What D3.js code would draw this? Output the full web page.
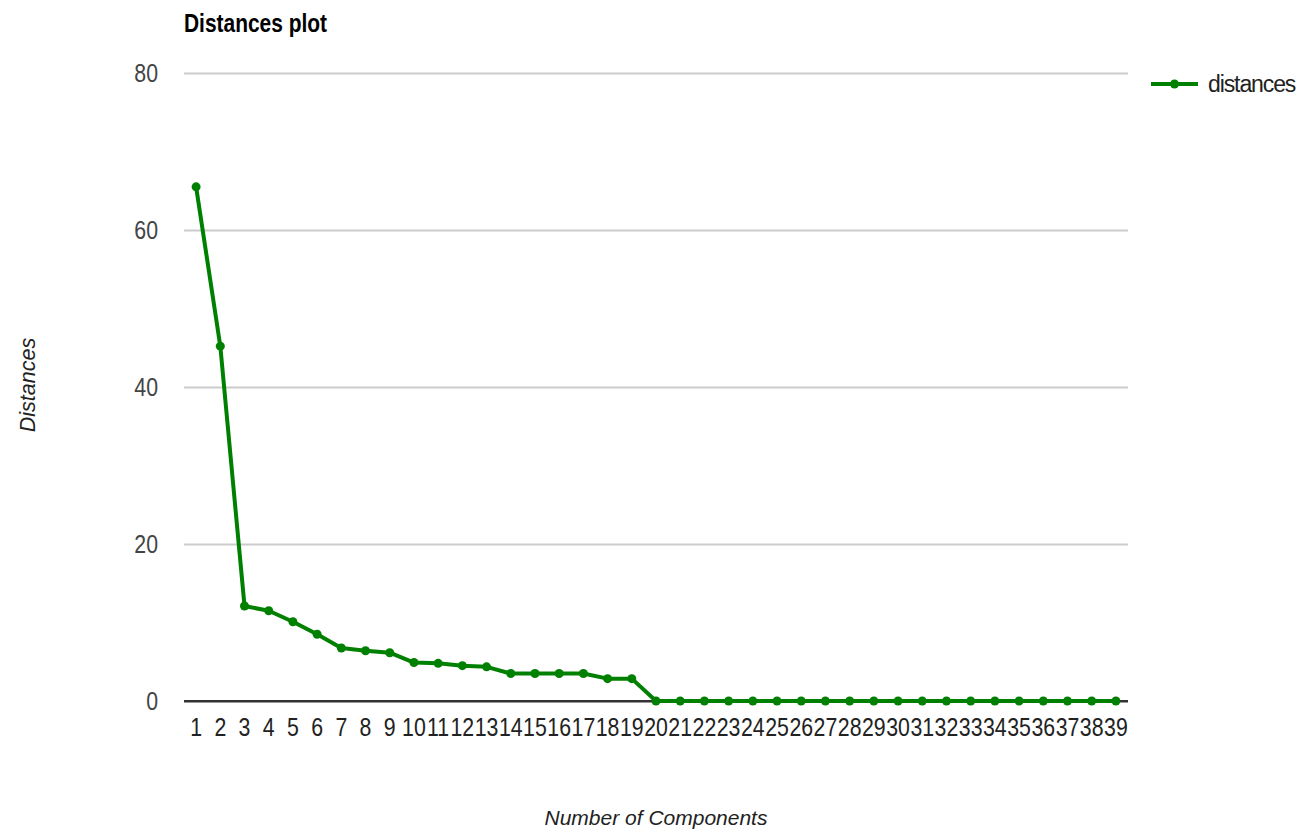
<!DOCTYPE html>
<html>
<head>
<meta charset="utf-8">
<script src="https://cdn.jsdelivr.net/npm/d3@7"></script>
<style>
  body { margin: 0; background: #fff; }
  svg text { font-family: "Liberation Sans", Arial, sans-serif; }
</style>
</head>
<body>
<div id="chart"></div>
<script>
// dữ liệu
const components = ["1","2","3","4","5","6","7","8","9","10","11","12","13","14","15","16","17","18","19","20",
  "21","22","23","24","25","26","27","28","29","30","31","32","33","34","35","36","37","38","39"];
const distances = [65.5, 45.2, 12.1, 11.5, 10.1, 8.5, 6.75, 6.4, 6.15, 4.9, 4.8, 4.5, 4.35, 3.5, 3.5, 3.5, 3.5, 2.85, 2.85,
  0, 0, 0, 0, 0, 0, 0, 0, 0, 0, 0, 0, 0, 0, 0, 0, 0, 0, 0, 0];
const yTicks = [0, 20, 40, 60, 80];
const seriesName = "distances";

const W = 1300, H = 834;
const margin = {top: 73, right: 172, bottom: 133, left: 184};
const width = W - margin.left - margin.right;
const height = H - margin.top - margin.bottom;
const green = "#008000";
const sx = 0.82; // chữ trong hình gốc bị hẹp theo chiều ngang

const svg = d3.select("#chart").append("svg")
    .attr("width", W)
    .attr("height", H);

const g = svg.append("g")
    .attr("transform", `translate(${margin.left},${margin.top})`);

const x = d3.scaleBand()
    .domain(components)
    .range([0, width])
    .padding(0);

const y = d3.scaleLinear()
    .domain([0, 80])
    .range([height, 0]);

// lưới ngang + nhãn trục Y
const yAxis = g.append("g")
    .call(d3.axisLeft(y).tickValues(yTicks).tickSize(-width).tickPadding(26));
yAxis.select(".domain").remove();
yAxis.selectAll(".tick line")
    .attr("stroke", d => d === 0 ? "#333" : "#ccc")
    .attr("stroke-width", 2);
yAxis.selectAll(".tick text")
    .attr("fill", "#444")
    .attr("x", -26 / sx)
    .attr("transform", `scale(${sx},1)`)
    .style("font-size", "26px");

// nhãn trục X
const xAxis = g.append("g")
    .attr("transform", `translate(0,${height})`)
    .call(d3.axisBottom(x).tickSize(0).tickPadding(17));
xAxis.select(".domain").remove();
xAxis.selectAll(".tick text")
    .attr("fill", "#222")
    .attr("transform", `scale(${sx},1)`)
    .style("font-size", "26px");

// đường đậm ở mức 0 nằm trên lưới
g.append("line")
    .attr("x1", 0).attr("x2", width)
    .attr("y1", y(0)).attr("y2", y(0))
    .attr("stroke", "#333").attr("stroke-width", 2);

const cx = d => x(d) + x.bandwidth() / 2;

g.append("path")
    .datum(distances)
    .attr("fill", "none")
    .attr("stroke", green)
    .attr("stroke-width", 4)
    .attr("stroke-linejoin", "round")
    .attr("d", d3.line().x((d, i) => cx(components[i])).y(d => y(d)));

g.selectAll(".pt")
    .data(distances)
    .join("circle")
      .attr("class", "pt")
      .attr("cx", (d, i) => cx(components[i]))
      .attr("cy", d => y(d))
      .attr("r", 4.5)
      .attr("fill", green);

// tiêu đề
svg.append("text")
    .attr("x", margin.left / 0.79)
    .attr("y", 32)
    .attr("transform", "scale(0.79,1)")
    .attr("fill", "#000")
    .style("font-size", "26.5px")
    .style("font-weight", "bold")
    .text("Distances plot");

// tiêu đề trục
svg.append("text")
    .attr("x", 656)
    .attr("y", 825)
    .attr("text-anchor", "middle")
    .attr("fill", "#222")
    .style("font-size", "21px")
    .style("font-style", "italic")
    .text("Number of Components");

svg.append("text")
    .attr("transform", `translate(35,385) rotate(-90)`)
    .attr("text-anchor", "middle")
    .attr("fill", "#222")
    .style("font-size", "21.5px")
    .style("font-style", "italic")
    .text("Distances");

// chú giải
const lg = svg.append("g").attr("transform", "translate(1151,84)");
lg.append("line")
    .attr("x1", 0).attr("x2", 47)
    .attr("stroke", green).attr("stroke-width", 4);
lg.append("circle")
    .attr("cx", 23.5).attr("r", 4.5).attr("fill", green);
lg.append("text")
    .attr("x", 57)
    .attr("y", 8)
    .attr("fill", "#222")
    .style("font-size", "23px")
    .style("letter-spacing", "-1.1px")
    .text(seriesName);
</script>
</body>
</html>
